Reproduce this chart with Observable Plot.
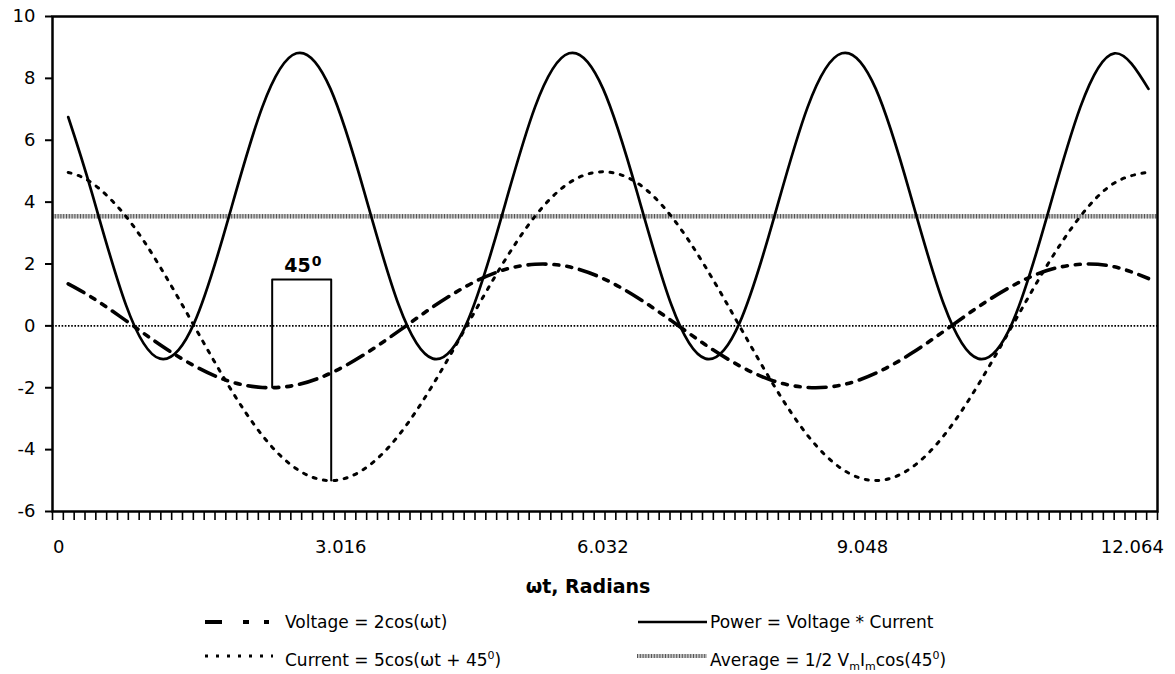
<!DOCTYPE html>
<html>
<head>
<meta charset="utf-8">
<script src="https://cdn.jsdelivr.net/npm/d3@7"></script>
<script src="https://cdn.jsdelivr.net/npm/@observablehq/plot@0.6"></script>
<style>
  html, body { margin: 0; padding: 0; background: white; }
  #chart { width: 1175px; }
  .legend { position: relative; width: 1175px; height: 64px; font-family: "DejaVu Sans", sans-serif; font-size: 17px; color: #000; }
  .legend svg { position: absolute; overflow: visible; }
  .legend .lbl { position: absolute; white-space: nowrap; line-height: 20px; }
  sub, sup { font-size: 11px; }
</style>
</head>
<body>
<div id="chart"></div>
<div class="legend" id="legend"></div>
<script>
// ---- data ----
const omegaT = [0.12, 0.393, 0.785, 1.178, 1.571, 1.963, 2.356, 2.749, 3.142, 3.534, 3.927, 4.320, 4.712, 5.105, 5.498, 5.890, 6.283, 6.676, 7.069, 7.461, 7.854, 8.247, 8.639, 9.032, 9.425, 9.817, 10.210, 10.603, 10.996, 11.388, 11.781, 12.174, 12.566];
const voltage = [1.36, 0.92, 0.17, -0.61, -1.29, -1.78, -1.99, -1.91, -1.53, -0.92, -0.17, 0.61, 1.29, 1.78, 1.99, 1.91, 1.53, 0.92, 0.17, -0.61, -1.29, -1.78, -1.99, -1.91, -1.53, -0.92, -0.17, 0.61, 1.29, 1.78, 1.99, 1.91, 1.53];
const current = [4.96, 4.62, 3.54, 1.91, 0, -1.91, -3.54, -4.62, -5, -4.62, -3.54, -1.91, 0, 1.91, 3.54, 4.62, 4.98, 4.62, 3.54, 1.91, 0, -1.91, -3.54, -4.62, -5, -4.62, -3.54, -1.91, 0, 1.91, 3.54, 4.62, 4.97];
const power = [6.75, 4.30, 0.68, -1.06, 0.09, 3.45, 7.07, 8.81, 7.66, 4.30, 0.68, -1.06, 0.09, 3.45, 7.07, 8.81, 7.66, 4.30, 0.68, -1.06, 0.09, 3.45, 7.07, 8.81, 7.66, 4.30, 0.68, -1.06, 0.09, 3.45, 7.07, 8.81, 7.66];
const averagePower = 3.54;
const xTickLabels = ["0", "3.016", "6.032", "9.048", "12.064"];
const xTickAt = [0.01, 3.26, 6.28, 9.27, 12.38];
const yTicks = [-6, -4, -2, 0, 2, 4, 6, 8, 10];
const phaseBracketX = [2.47, 3.15];   // voltage minimum -> current minimum
const phaseBracketTop = 1.5;
const phaseLabel = "45";
const xTitle = "ωt, Radians";

// ---- build table ----
const rows = omegaT.map((t, i) => ({t, voltage: voltage[i], current: current[i], power: power[i]}));
const vMin = d3.min(voltage), cMin = d3.min(current);
const bracket = [
  {t: phaseBracketX[0], v: vMin},
  {t: phaseBracketX[0], v: phaseBracketTop},
  {t: phaseBracketX[1], v: phaseBracketTop},
  {t: phaseBracketX[1], v: cMin}
];
const xDomain = [-0.061, 12.67];
const minorTicks = d3.range(0, 103).map(i => xDomain[0] + i * (xDomain[1] - xDomain[0]) / 102);
const bracketMid = (phaseBracketX[0] + phaseBracketX[1]) / 2;

const chart = Plot.plot({
  width: 1175,
  height: 610,
  marginLeft: 52,
  marginRight: 18,
  marginTop: 16,
  marginBottom: 99,
  x: {domain: xDomain},
  y: {domain: [-6, 10]},
  style: {fontFamily: "DejaVu Sans, sans-serif", fontSize: "18px", color: "black", background: "white", overflow: "visible"},
  marks: [
    Plot.ruleY([0], {stroke: "black", strokeWidth: 1.6, strokeDasharray: "1.6,1.6"}),
    Plot.ruleY([averagePower], {stroke: "#c4c4c4", strokeWidth: 4.5}),
    Plot.ruleY([averagePower], {stroke: "#555", strokeWidth: 4.5, strokeDasharray: "1,1.8"}),
    Plot.line(rows, {x: "t", y: "current", curve: "natural", stroke: "black", strokeWidth: 3, strokeDasharray: "3,7.5"}),
    Plot.line(rows, {x: "t", y: "voltage", curve: "natural", stroke: "black", strokeWidth: 3.6, strokeDasharray: "18,8,5,8,5,8"}),
    Plot.line(rows, {x: "t", y: "power", curve: "natural", stroke: "black", strokeWidth: 2.7}),
    Plot.line(bracket, {x: "t", y: "v", stroke: "black", strokeWidth: 2}),
    Plot.text([phaseLabel], {x: bracketMid, y: phaseBracketTop, text: d => d, textAnchor: "end", dx: 9, dy: -14, fontWeight: "bold", fontSize: 19}),
    Plot.text(["0"], {x: bracketMid, y: phaseBracketTop, text: d => d, textAnchor: "start", dx: 10, dy: -18, fontWeight: "bold", fontSize: 14}),
    Plot.frame({stroke: "black", strokeWidth: 2.5}),
    Plot.axisY({ticks: yTicks, tickSize: 7, tickPadding: 10, tickFormat: d => String(d), label: null, strokeWidth: 2}),
    Plot.axisX({ticks: minorTicks, tickSize: 9, tickFormat: () => "", label: null, strokeWidth: 1.6}),
    Plot.axisX({ticks: xTickAt, tickSize: 0, tickPadding: 29, tickFormat: (d, i) => xTickLabels[i], label: null}),
    Plot.text([xTitle], {frameAnchor: "bottom", dx: -17, dy: 81, text: d => d, fontWeight: "bold", fontSize: 19})
  ]
});
document.getElementById("chart").appendChild(chart);

// ---- legend ----
const legendItems = [
  {left: 205, w: 64, top: 12, dash: "17,21,6,15,5", width: 4, stroke: "black", textLeft: 285, html: "Voltage = 2cos(ωt)"},
  {left: 205, w: 68, top: 46, dash: "3,8", width: 3, stroke: "black", textLeft: 285, html: "Current = 5cos(ωt + 45<sup>0</sup>)"},
  {left: 638, w: 69, top: 12, dash: null, width: 2.6, stroke: "black", textLeft: 710, html: "Power = Voltage * Current"},
  {left: 637, w: 70, top: 46, dash: null, width: 4, stroke: "#c4c4c4", overlay: true, textLeft: 710, html: "Average = 1/2 V<sub>m</sub>I<sub>m</sub>cos(45<sup>0</sup>)"}
];
const leg = document.getElementById("legend");
for (const it of legendItems) {
  const svg = d3.create("svg").attr("width", it.w).attr("height", 8)
    .style("left", it.left + "px").style("top", (it.top - 4) + "px");
  svg.append("line").attr("x1", 0).attr("x2", it.w).attr("y1", 4).attr("y2", 4)
    .attr("stroke", it.stroke).attr("stroke-width", it.width)
    .attr("stroke-dasharray", it.dash);
  if (it.overlay) {
    svg.append("line").attr("x1", 0).attr("x2", it.w).attr("y1", 4).attr("y2", 4)
      .attr("stroke", "#555").attr("stroke-width", 4).attr("stroke-dasharray", "1,1.8");
  }
  leg.appendChild(svg.node());
  const lbl = document.createElement("div");
  lbl.className = "lbl";
  lbl.style.left = it.textLeft + "px";
  lbl.style.top = (it.top - 10) + "px";
  lbl.innerHTML = it.html;
  leg.appendChild(lbl);
}
</script>
</body>
</html>
